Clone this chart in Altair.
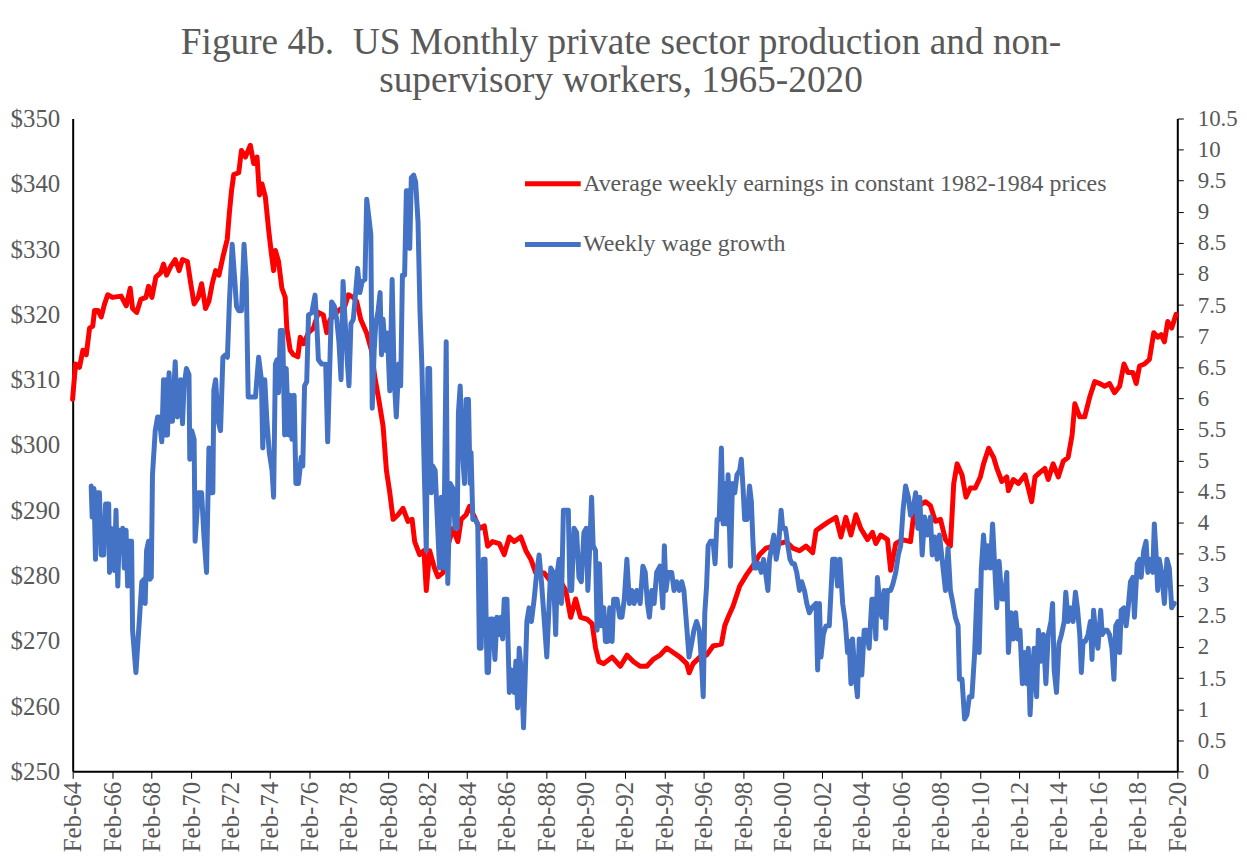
import altair as alt
import pandas as pd

# ---- data (decimal year, value) ----
red_years = [
    1964.08, 1964.23, 1964.43, 1964.6, 1964.77, 1964.94, 1965.1, 1965.19, 1965.36, 1965.53,
    1965.7, 1965.86, 1966.1, 1966.54, 1966.8, 1967.0, 1967.12, 1967.33, 1967.54, 1967.8,
    1967.93, 1968.1, 1968.3, 1968.55, 1968.69, 1968.84, 1969.06, 1969.28, 1969.48, 1969.65,
    1969.9, 1970.07, 1970.24, 1970.45, 1970.62, 1970.82, 1970.99, 1971.16, 1971.33, 1971.5,
    1971.7, 1971.92, 1972.03, 1972.14, 1972.25, 1972.5, 1972.64, 1972.84, 1973.09, 1973.26,
    1973.43, 1973.55, 1973.68, 1973.85, 1974.02, 1974.15, 1974.27, 1974.36, 1974.52, 1974.69,
    1974.86, 1974.94, 1975.11, 1975.28, 1975.5, 1975.62, 1975.79, 1976.04, 1976.29, 1976.54,
    1976.79, 1976.96, 1977.13, 1977.55, 1977.89, 1978.06, 1978.31, 1978.48, 1978.69, 1978.98,
    1979.23, 1979.4, 1979.6, 1979.82, 1979.99, 1980.16, 1980.33, 1980.58, 1980.83, 1981.08,
    1981.29, 1981.42, 1981.67, 1981.89, 1982.01, 1982.18, 1982.43, 1982.6, 1982.85, 1983.1,
    1983.36, 1983.61, 1983.78, 1984.03, 1984.2, 1984.45, 1984.7, 1984.95, 1985.12, 1985.37,
    1985.71, 1985.96, 1986.22, 1986.47, 1986.8, 1987.06, 1987.31, 1987.56, 1987.98, 1988.32,
    1988.82, 1989.08, 1989.33, 1989.58, 1989.83, 1990.17, 1990.42, 1990.59, 1990.76, 1991.01,
    1991.43, 1991.85, 1992.19, 1992.52, 1992.85, 1993.19, 1993.53, 1993.86, 1994.2, 1994.53,
    1994.87, 1995.21, 1995.34, 1995.54, 1995.88, 1996.22, 1996.55, 1996.97, 1997.14, 1997.31,
    1997.56, 1997.9, 1998.24, 1998.57, 1998.91, 1999.24, 1999.58, 1999.92, 2000.25, 2000.59,
    2000.93, 2001.26, 2001.6, 2001.77, 2002.1, 2002.44, 2002.78, 2003.03, 2003.28, 2003.54,
    2003.79, 2004.04, 2004.38, 2004.63, 2004.8, 2005.05, 2005.39, 2005.55, 2005.81, 2006.14,
    2006.56, 2006.73, 2006.98, 2007.32, 2007.57, 2007.82, 2008.08, 2008.33, 2008.58, 2008.75,
    2008.92, 2009.17, 2009.37, 2009.59, 2009.84, 2010.1, 2010.26, 2010.52, 2010.77, 2010.94,
    2011.19, 2011.44, 2011.52, 2011.77, 2012.03, 2012.36, 2012.53, 2012.7, 2012.87, 2013.12,
    2013.37, 2013.54, 2013.79, 2014.05, 2014.3, 2014.55, 2014.75, 2014.89, 2015.14, 2015.39,
    2015.64, 2015.9, 2016.15, 2016.4, 2016.65, 2016.9, 2017.16, 2017.38, 2017.58, 2017.83,
    2018.0, 2018.17, 2018.42, 2018.67, 2018.89, 2019.09, 2019.26, 2019.43, 2019.6, 2019.8,
    2020.02,
]
red_values = [
    307.0, 312.4, 311.9, 314.5, 313.8, 317.9, 318.2, 320.6, 320.6, 319.6,
    321.6, 323.0, 322.6, 322.8, 321.3, 324.0, 320.9, 320.3, 322.3, 322.6,
    324.3, 322.6, 325.7, 326.4, 327.7, 326.0, 327.4, 328.4, 326.7, 328.4,
    328.1, 324.7, 321.6, 322.6, 324.7, 320.9, 322.0, 324.7, 326.7, 326.0,
    328.8, 331.5, 335.6, 339.0, 341.4, 341.7, 345.1, 344.1, 345.9, 343.1,
    344.1, 338.3, 340.0, 338.0, 332.9, 329.5, 326.7, 329.8, 328.1, 324.0,
    322.6, 317.9, 314.5, 313.8, 313.5, 316.5, 315.5, 317.2, 317.9, 320.3,
    319.9, 317.2, 319.2, 320.6, 321.3, 323.0, 322.6, 322.0, 319.2, 317.2,
    314.5, 310.4, 307.0, 302.9, 296.1, 292.7, 288.6, 289.3, 290.3, 288.3,
    288.6, 285.2, 283.2, 283.8, 277.7, 283.8, 281.1, 279.8, 280.4, 284.5,
    287.2, 285.2, 288.6, 289.3, 290.6, 289.0, 287.2, 287.6, 284.5, 285.2,
    284.9, 283.2, 285.9, 285.2, 285.9, 283.8, 282.5, 280.4, 280.4, 279.1,
    279.1, 277.7, 273.6, 276.4, 273.6, 273.3, 272.6, 268.9, 266.8, 266.5,
    267.5, 266.1, 267.8, 266.8, 266.1, 266.1, 267.2, 267.8, 268.9, 268.2,
    267.5, 266.5, 265.1, 266.5, 267.5, 267.8, 269.2, 269.5, 272.3, 273.6,
    275.3, 278.4, 280.1, 281.5, 283.2, 284.2, 284.5, 284.9, 285.2, 284.2,
    283.8, 284.5, 283.5, 286.9, 287.6, 288.3, 288.9, 285.9, 288.9, 286.2,
    289.3, 287.2, 285.5, 286.6, 284.9, 286.2, 285.5, 280.8, 284.9, 285.5,
    285.2, 289.6, 290.7, 291.3, 290.7, 288.3, 288.6, 285.5, 284.5, 294.1,
    297.1, 295.4, 292.0, 293.4, 293.4, 295.1, 297.1, 299.5, 298.1, 296.4,
    294.4, 295.1, 293.0, 294.7, 294.1, 295.4, 293.4, 291.3, 295.1, 295.8,
    296.4, 294.7, 297.1, 295.1, 297.5, 298.1, 301.5, 306.3, 304.3, 304.3,
    307.3, 309.7, 309.4, 309.0, 309.4, 308.0, 309.0, 312.4, 311.1, 311.1,
    309.4, 312.1, 312.4, 313.1, 317.2, 316.5, 316.9, 315.8, 318.9, 317.9,
    320.0,
]

blue_years = [
    1965.02, 1965.07, 1965.16, 1965.24, 1965.32, 1965.44, 1965.53, 1965.66, 1965.75, 1965.91,
    1965.95, 1966.03, 1966.11, 1966.2, 1966.28, 1966.37, 1966.45, 1966.54, 1966.62, 1966.7,
    1966.79, 1966.87, 1966.96, 1967.07, 1967.12, 1967.29, 1967.46, 1967.59, 1967.71, 1967.76,
    1967.83, 1967.93, 1968.0, 1968.07, 1968.13, 1968.27, 1968.39, 1968.47, 1968.6, 1968.69,
    1968.77, 1968.81, 1968.89, 1968.97, 1969.06, 1969.14, 1969.28, 1969.39, 1969.48, 1969.56,
    1969.65, 1969.73, 1969.85, 1969.98, 1970.02, 1970.12, 1970.24, 1970.29, 1970.45, 1970.62,
    1970.74, 1970.87, 1970.99, 1971.08, 1971.19, 1971.24, 1971.33, 1971.46, 1971.58, 1971.7,
    1971.83, 1971.93, 1972.03, 1972.17, 1972.3, 1972.39, 1972.5, 1972.64, 1972.77, 1972.88,
    1972.98, 1973.09, 1973.35, 1973.51, 1973.65, 1973.72, 1973.82, 1973.93, 1974.05, 1974.19,
    1974.27, 1974.36, 1974.44, 1974.52, 1974.61, 1974.73, 1974.83, 1974.91, 1975.03, 1975.11,
    1975.2, 1975.31, 1975.4, 1975.53, 1975.67, 1975.75, 1975.84, 1975.95, 1976.04, 1976.21,
    1976.37, 1976.46, 1976.54, 1976.71, 1976.91, 1977.01, 1977.1, 1977.21, 1977.35, 1977.47,
    1977.58, 1977.69, 1977.79, 1977.89, 1978.0, 1978.09, 1978.19, 1978.31, 1978.43, 1978.53,
    1978.64, 1978.76, 1978.9, 1978.99, 1979.1, 1979.2, 1979.27, 1979.37, 1979.45, 1979.57,
    1979.67, 1979.74, 1979.82, 1979.94, 1980.04, 1980.16, 1980.28, 1980.38, 1980.49, 1980.61,
    1980.71, 1980.8, 1980.91, 1981.0, 1981.12, 1981.17, 1981.25, 1981.37, 1981.47, 1981.59,
    1981.69, 1981.79, 1981.89, 1982.01, 1982.09, 1982.18, 1982.26, 1982.34, 1982.46, 1982.56,
    1982.68, 1982.77, 1982.89, 1983.02, 1983.1, 1983.22, 1983.36, 1983.47, 1983.58, 1983.64,
    1983.73, 1983.83, 1983.95, 1984.03, 1984.15, 1984.23, 1984.28, 1984.37, 1984.48, 1984.62,
    1984.7, 1984.79, 1984.9, 1984.99, 1985.09, 1985.16, 1985.26, 1985.37, 1985.49, 1985.59,
    1985.71, 1985.8, 1985.88, 1985.96, 1986.1, 1986.22, 1986.33, 1986.47, 1986.55, 1986.64,
    1986.72, 1986.84, 1986.94, 1987.02, 1987.11, 1987.22, 1987.34, 1987.48, 1987.61, 1987.73,
    1987.85, 1987.98, 1988.12, 1988.23, 1988.32, 1988.45, 1988.57, 1988.65, 1988.74, 1988.86,
    1988.96, 1989.07, 1989.21, 1989.29, 1989.38, 1989.5, 1989.63, 1989.75, 1989.87, 1990.0,
    1990.12, 1990.2, 1990.3, 1990.39, 1990.47, 1990.59, 1990.67, 1990.79, 1990.89, 1991.01,
    1991.09, 1991.21, 1991.31, 1991.43, 1991.51, 1991.68, 1991.82, 1991.93, 1992.05, 1992.18,
    1992.31, 1992.43, 1992.55, 1992.68, 1992.85, 1992.99, 1993.11, 1993.22, 1993.32, 1993.44,
    1993.56, 1993.69, 1993.86, 1994.0, 1994.08, 1994.16, 1994.28, 1994.45, 1994.57, 1994.7,
    1994.84, 1994.96, 1995.07, 1995.21, 1995.33, 1995.46, 1995.58, 1995.71, 1995.85, 1995.96,
    1996.05, 1996.13, 1996.22, 1996.3, 1996.42, 1996.55, 1996.65, 1996.75, 1996.86, 1996.97,
    1997.06, 1997.14, 1997.23, 1997.31, 1997.43, 1997.53, 1997.65, 1997.76, 1997.9, 1997.98,
    1998.07, 1998.15, 1998.27, 1998.4, 1998.49, 1998.57, 1998.65, 1998.74, 1998.87, 1998.99,
    1999.11, 1999.21, 1999.33, 1999.41, 1999.53, 1999.63, 1999.75, 1999.87, 2000.0, 2000.08,
    2000.22, 2000.34, 2000.45, 2000.56, 2000.67, 2000.79, 2000.93, 2001.04, 2001.18, 2001.3,
    2001.43, 2001.56, 2001.77, 2001.85, 2001.94, 2002.02, 2002.14, 2002.27, 2002.44, 2002.61,
    2002.75, 2002.86, 2002.98, 2003.12, 2003.25, 2003.37, 2003.45, 2003.54, 2003.62, 2003.75,
    2003.87, 2003.96, 2004.09, 2004.21, 2004.33, 2004.46, 2004.6, 2004.71, 2004.8, 2004.88,
    2005.0, 2005.1, 2005.22, 2005.3, 2005.39, 2005.55, 2005.67, 2005.81, 2005.94, 2006.06,
    2006.18, 2006.31, 2006.45, 2006.56, 2006.68, 2006.82, 2006.93, 2007.03, 2007.15, 2007.27,
    2007.4, 2007.57, 2007.66, 2007.79, 2007.91, 2008.03, 2008.16, 2008.33, 2008.46, 2008.58,
    2008.67, 2008.83, 2008.97, 2009.04, 2009.17, 2009.3, 2009.42, 2009.54, 2009.67, 2009.81,
    2009.93, 2010.04, 2010.15, 2010.26, 2010.38, 2010.48, 2010.6, 2010.72, 2010.93, 2011.05,
    2011.19, 2011.32, 2011.44, 2011.52, 2011.66, 2011.77, 2011.89, 2011.99, 2012.11, 2012.23,
    2012.33, 2012.45, 2012.53, 2012.62, 2012.73, 2012.83, 2012.95, 2013.04, 2013.17, 2013.29,
    2013.42, 2013.54, 2013.68, 2013.76, 2013.84, 2013.96, 2014.08, 2014.21, 2014.35, 2014.43,
    2014.55, 2014.68, 2014.8, 2014.92, 2015.02, 2015.14, 2015.22, 2015.31, 2015.42, 2015.56,
    2015.68, 2015.76, 2015.84, 2015.95, 2016.06, 2016.2, 2016.28, 2016.4, 2016.53, 2016.65,
    2016.77, 2016.87, 2016.96, 2017.07, 2017.16, 2017.24, 2017.38, 2017.49, 2017.58, 2017.71,
    2017.83, 2017.91, 2018.05, 2018.17, 2018.25, 2018.38, 2018.5, 2018.59, 2018.72, 2018.84,
    2018.92, 2019.01, 2019.09, 2019.17, 2019.29, 2019.43, 2019.56, 2019.68, 2019.8, 2019.93,
]
blue_values = [
    4.59, 4.09, 4.55, 3.41, 4.48, 4.48, 3.48, 3.48, 4.30, 4.30,
    3.20, 3.91, 3.48, 3.23, 4.20, 2.98, 3.88, 3.63, 3.91, 3.27,
    3.88, 2.98, 3.70, 3.70, 2.27, 1.59, 2.41, 3.05, 3.09, 2.70,
    3.55, 3.70, 3.09, 3.12, 4.77, 5.48, 5.70, 5.70, 5.30, 6.30,
    5.41, 6.30, 5.41, 6.41, 5.63, 5.63, 6.59, 5.70, 5.91, 6.30,
    5.59, 6.20, 6.48, 6.38, 5.02, 5.48, 5.34, 3.70, 4.48, 4.48,
    3.77, 3.20, 5.20, 4.48, 4.48, 6.13, 6.30, 5.63, 5.48, 6.66,
    6.70, 6.66, 7.55, 8.48, 7.91, 7.48, 7.41, 7.41, 8.48, 7.91,
    6.02, 6.02, 6.02, 6.66, 6.30, 5.20, 6.30, 5.63, 5.13, 4.84,
    4.41, 6.55, 6.62, 6.09, 7.09, 7.09, 5.41, 6.48, 5.41, 6.05,
    5.34, 6.05, 4.63, 4.63, 5.05, 4.91, 6.20, 6.27, 7.34, 7.38,
    7.66, 7.20, 6.62, 6.55, 6.55, 5.30, 6.34, 7.55, 7.48, 7.27,
    6.91, 6.30, 7.88, 7.27, 6.62, 6.20, 7.20, 7.27, 7.70, 8.09,
    7.70, 7.88, 7.91, 9.20, 8.91, 8.63, 5.84, 6.77, 7.20, 7.41,
    7.70, 6.70, 7.27, 6.77, 7.05, 6.12, 7.91, 6.34, 5.70, 6.55,
    6.20, 7.98, 7.98, 9.34, 9.34, 8.41, 9.55, 9.59, 9.48, 8.84,
    7.41, 6.48, 5.05, 3.55, 6.48, 6.48, 4.48, 4.91, 4.84, 4.12,
    3.27, 4.41, 3.27, 6.91, 3.02, 4.63, 4.55, 3.91, 3.91, 5.77,
    6.20, 5.20, 4.63, 5.98, 5.98, 4.63, 5.13, 4.05, 4.05, 3.98,
    1.98, 1.98, 3.41, 3.41, 1.59, 1.59, 2.45, 2.45, 1.80, 2.48,
    2.20, 2.48, 2.13, 2.77, 2.77, 1.27, 1.63, 1.27, 1.77, 1.02,
    1.98, 1.55, 0.70, 1.48, 2.41, 2.63, 2.41, 2.77, 3.20, 3.48,
    3.05, 2.48, 1.84, 2.63, 3.27, 3.20, 2.20, 3.20, 3.41, 2.70,
    4.20, 4.20, 4.20, 2.91, 2.91, 3.91, 3.84, 3.12, 3.05, 3.84,
    3.91, 2.91, 3.63, 4.41, 3.63, 3.55, 2.27, 3.34, 2.34, 2.63,
    2.09, 2.09, 2.63, 2.09, 2.77, 2.77, 2.48, 2.48, 2.77, 3.41,
    2.70, 2.91, 2.70, 2.91, 2.70, 3.30, 3.20, 2.70, 2.48, 2.91,
    2.70, 3.20, 3.30, 2.63, 3.63, 2.91, 3.20, 3.20, 2.91, 3.05,
    2.91, 3.05, 2.91, 2.34, 1.84, 2.05, 2.27, 2.41, 2.27, 1.77,
    1.20, 2.55, 2.98, 3.63, 3.70, 3.70, 3.34, 4.05, 4.05, 5.20,
    3.98, 4.63, 3.98, 4.77, 3.30, 4.63, 4.48, 4.77, 4.84, 5.02,
    4.55, 4.05, 4.05, 4.59, 4.34, 3.70, 3.27, 3.27, 3.34, 3.20,
    3.41, 3.20, 2.91, 3.41, 3.63, 3.80, 3.41, 3.63, 4.20, 3.91,
    3.91, 3.63, 3.41, 3.34, 3.34, 3.20, 2.91, 3.05, 2.91, 2.70,
    2.55, 2.63, 2.70, 1.63, 2.70, 1.84, 2.20, 2.34, 2.34, 3.41,
    3.41, 2.98, 3.41, 2.70, 2.41, 1.91, 2.09, 1.41, 2.13, 1.55,
    1.20, 2.13, 1.55, 2.27, 2.27, 1.98, 2.77, 2.77, 2.13, 3.12,
    2.70, 2.48, 2.91, 2.30, 2.91, 2.91, 3.02, 3.20, 3.48, 3.63,
    4.20, 4.59, 4.41, 4.12, 4.20, 4.48, 3.91, 4.41, 3.48, 4.09,
    3.80, 4.09, 3.48, 3.77, 3.41, 3.80, 3.41, 2.91, 3.59, 2.91,
    2.77, 2.48, 2.34, 1.48, 1.48, 0.84, 0.91, 1.20, 1.20, 1.91,
    2.91, 1.91, 3.27, 3.80, 3.27, 3.63, 3.27, 3.98, 2.63, 3.38,
    2.77, 2.77, 3.20, 1.91, 2.55, 2.13, 2.55, 2.13, 2.27, 1.41,
    1.91, 1.41, 1.98, 0.91, 1.63, 1.98, 1.20, 2.27, 1.77, 2.20,
    1.41, 2.20, 2.41, 2.70, 1.63, 1.27, 2.05, 2.20, 2.41, 2.88,
    2.41, 2.63, 2.41, 2.88, 2.63, 2.20, 1.59, 2.09, 2.09, 2.20,
    2.41, 1.80, 2.59, 2.20, 1.98, 2.59, 2.20, 2.27, 2.27, 2.20,
    1.98, 1.48, 2.34, 2.41, 1.91, 2.59, 2.63, 2.34, 2.59, 3.05,
    3.12, 2.48, 3.34, 3.41, 3.12, 3.55, 3.70, 3.20, 3.41, 3.20,
    3.98, 3.48, 2.91, 3.41, 3.20, 2.70, 3.41, 3.27, 2.63, 2.70,
]

red_name = "Average weekly earnings in constant 1982-1984 prices"
blue_name = "Weekly wage growth"
series_names = [red_name, blue_name]
series_colors = ["#FF0000", "#4472C4"]
left_ticks = list(range(250, 351, 10))
right_ticks = [i * 0.5 for i in range(0, 22)]
x_tick_years = list(range(1964, 2021, 2))


def to_date(y):
    yr = int(y)
    start = pd.Timestamp(year=yr, month=1, day=1)
    end = pd.Timestamp(year=yr + 1, month=1, day=1)
    return start + (end - start) * (y - yr)


red_df = pd.DataFrame({
    "date": [to_date(y) for y in red_years],
    "value": red_values,
    "series": red_name,
})
blue_df = pd.DataFrame({
    "date": [to_date(y) for y in blue_years],
    "value": blue_values,
    "series": blue_name,
})

FONT = "Liberation Serif"
TXT = "#595959"

x_enc = alt.X(
    "date:T",
    scale=alt.Scale(domain=[alt.DateTime(year=1964, month=2, date=1),
                            alt.DateTime(year=2020, month=2, date=1)]),
    axis=alt.Axis(
        values=[alt.DateTime(year=y, month=2, date=1) for y in x_tick_years],
        format="%b-%y", labelAngle=-90, labelOverlap=False, grid=False,
        tickSize=7, tickColor="#000000", domainColor="#000000", domainWidth=2,
        labelPadding=3, labelFontSize=25, labelFont=FONT, labelColor=TXT,
        title=None,
    ),
)

color_enc = alt.Color(
    "series:N",
    scale=alt.Scale(domain=series_names, range=series_colors),
    legend=alt.Legend(
        orient="none", legendX=452, legendY=35, title=None,
        symbolType="stroke", symbolSize=3136, symbolStrokeWidth=5,
        labelFont=FONT, labelFontSize=24, labelColor=TXT, labelLimit=0,
        labelOffset=0, rowPadding=18,
    ),
)

red_line = alt.Chart(red_df).mark_line(
    strokeWidth=5, strokeJoin="round", strokeCap="round"
).encode(
    x=x_enc,
    y=alt.Y(
        "value:Q",
        scale=alt.Scale(domain=[250, 350], nice=False, zero=False),
        axis=alt.Axis(
            values=left_ticks, labelExpr="'$' + datum.value", tickSize=0,
            labelPadding=13, grid=False, domainColor="#000000", domainWidth=2,
            labelFontSize=25, labelFont=FONT, labelColor=TXT, title=None,
        ),
    ),
    color=color_enc,
)

blue_line = alt.Chart(blue_df).mark_line(
    strokeWidth=5, strokeJoin="round", strokeCap="round"
).encode(
    x=x_enc,
    y=alt.Y(
        "value:Q",
        scale=alt.Scale(domain=[0, 10.5], nice=False),
        axis=alt.Axis(
            orient="right", values=right_ticks, labelExpr="'' + datum.value",
            tickSize=6, tickColor="#000000", labelPadding=14, grid=False,
            domainColor="#000000", domainWidth=2, labelOverlap=False,
            labelFontSize=23, labelFont=FONT, labelColor=TXT, title=None,
        ),
    ),
    color=color_enc,
)

chart = (
    alt.layer(red_line, blue_line)
    .resolve_scale(y="independent")
    .properties(
        width=1110,
        height=656,
        autosize=alt.AutoSizeParams(type="none"),
        padding={"left": 65, "top": 109, "right": 62, "bottom": 84},
        title=alt.TitleParams(
            text=["Figure 4b.\u00a0 US Monthly private sector production and non-",
                  "supervisory workers, 1965-2020"],
            font=FONT, fontSize=37.5, fontWeight="normal", color=TXT,
            lineHeight=38, offset=7, anchor="middle", dx=-4,
        ),
    )
    .configure_view(stroke="transparent")
)

chart.save("out.html", embed_options={"renderer": "svg", "actions": False})
